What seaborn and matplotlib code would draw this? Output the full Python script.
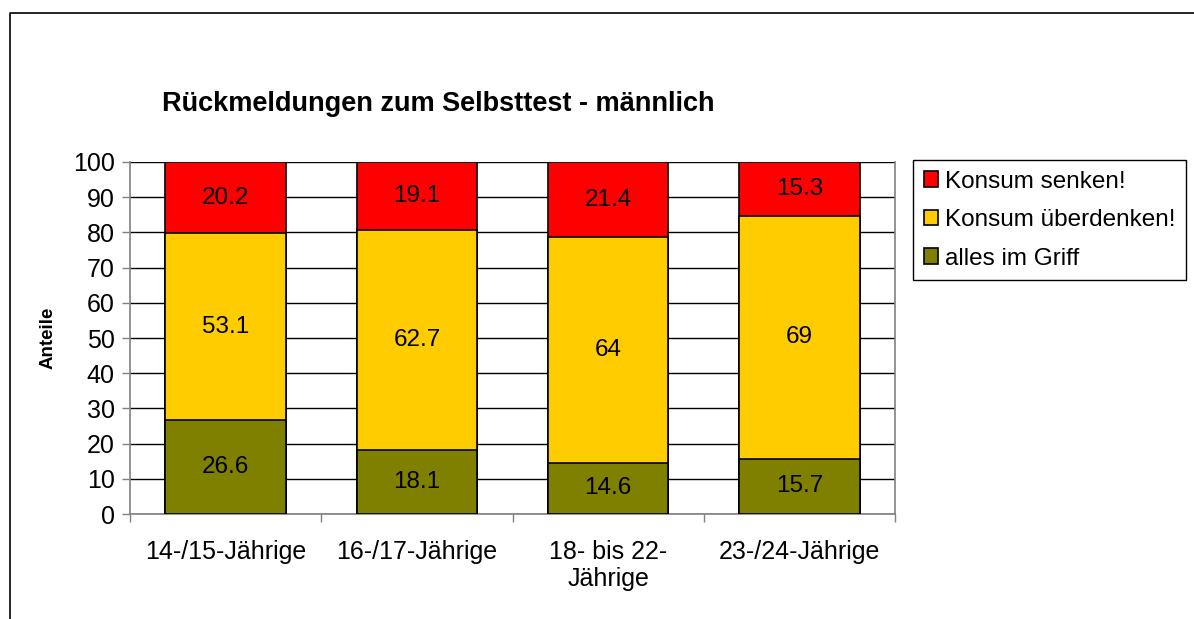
import matplotlib
matplotlib.use("Agg")
import matplotlib.pyplot as plt
import seaborn as sns
import pandas as pd
from matplotlib.lines import Line2D
from matplotlib.patches import Patch

categories = ["14-/15-Jährige", "16-/17-Jährige", "18- bis 22-\nJährige", "23-/24-Jährige"]
alles_im_griff = [26.6, 18.1, 14.6, 15.7]
ueberdenken = [53.1, 62.7, 64, 69]
senken = [20.2, 19.1, 21.4, 15.3]

series_names = ["Konsum senken!", "Konsum überdenken!", "alles im Griff"]
colors = {"Konsum senken!": "#FF0000", "Konsum überdenken!": "#FFCC00", "alles im Griff": "#808000"}

sns.set_style("white")
plt.rcParams["font.family"] = ["Liberation Sans", "DejaVu Sans"]
plt.rcParams["text.color"] = "black"
plt.rcParams["axes.labelcolor"] = "black"
plt.rcParams["xtick.labelcolor"] = "black"
plt.rcParams["ytick.labelcolor"] = "black"

df = pd.DataFrame({
    "cat": categories,
    "alles im Griff": alles_im_griff,
    "Konsum überdenken!": ueberdenken,
    "Konsum senken!": senken,
})
df["level1"] = df["alles im Griff"]
df["level2"] = df["level1"] + df["Konsum überdenken!"]
df["level3"] = df["level2"] + df["Konsum senken!"]

fig = plt.figure(figsize=(11.94, 6.19), dpi=100)
ax = fig.add_axes([0.1089, 0.1696, 0.6407, 0.5687])

# stacked bars drawn as overlapping cumulative totals, tallest first
for lvl, name in [("level3", "Konsum senken!"), ("level2", "Konsum überdenken!"), ("level1", "alles im Griff")]:
    sns.barplot(data=df, x="cat", y=lvl, color=colors[name], edgecolor="black",
                linewidth=1.2, width=0.63, saturation=1, ax=ax, zorder=3)

# segment labels
for i, row in df.iterrows():
    bottoms = [0, row["level1"], row["level2"]]
    for b, name in zip(bottoms, ["alles im Griff", "Konsum überdenken!", "Konsum senken!"]):
        v = row[name]
        ax.text(i, b + v / 2, f"{v:g}", ha="center", va="center", fontsize=17.5,
                color="black", zorder=4)

ax.set_ylim(0, 100)
ax.set_xlim(-0.5, 3.5)
ax.set_yticks(range(0, 101, 10))
ax.yaxis.grid(True, color="black", linewidth=1)
ax.set_axisbelow(True)
ax.set_xlabel("")
ax.set_ylabel("Anteile", fontsize=13.5, fontweight="bold", labelpad=12)

ax.spines["top"].set_visible(False)
for s in ["left", "right", "bottom"]:
    ax.spines[s].set_color("#808080")
    ax.spines[s].set_linewidth(1.2)

ax.tick_params(axis="y", labelsize=18, length=6, width=1, color="#808080", direction="out", left=True, pad=5)
ax.set_xticks([-0.5, 0.5, 1.5, 2.5, 3.5], minor=True)
ax.tick_params(axis="x", which="minor", length=6, width=1, color="#808080", direction="out", bottom=True)
ax.tick_params(axis="x", which="major", length=0, labelsize=18, pad=19)
ax.set_xticklabels(categories, linespacing=1.15)

fig.text(0.367, 0.832, "Rückmeldungen zum Selbsttest - männlich", ha="center", va="center",
         fontsize=19.5, fontweight="bold")

handles = [Patch(facecolor=colors[n], edgecolor="black", linewidth=1.2) for n in series_names]
leg = fig.legend(handles, series_names, loc="upper left", bbox_to_anchor=(0.765, 0.741),
                 frameon=True, fancybox=False, framealpha=1, edgecolor="black",
                 fontsize=17.5, handlelength=0.6, handleheight=0.6, handletextpad=0.3,
                 labelspacing=0.68, borderpad=0.42, borderaxespad=0)
leg.get_frame().set_linewidth(1)

# outer chart frame (top and left edges visible)
fig.add_artist(Line2D([0.0084, 0.0084, 1.0], [0.0, 0.979, 0.979], color="black",
                      linewidth=1.2, transform=fig.transFigure))

fig.savefig("out.png", dpi=100)
plt.close(fig)
